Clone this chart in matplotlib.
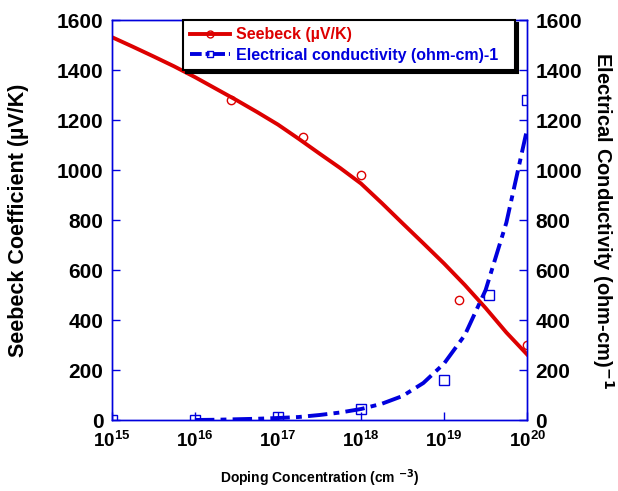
import numpy as np
import matplotlib
matplotlib.use("Agg")
import matplotlib.pyplot as plt

plt.rcParams['font.family'] = ['Liberation Sans', 'DejaVu Sans']
plt.rcParams['font.weight'] = 'bold'
plt.rcParams['mathtext.default'] = 'bf'

# measured points
seebeck_x = [2.7e16, 2e17, 1e18, 1.5e19, 1e20]
seebeck_y = [1280, 1132, 980, 480, 300]
cond_x = [1e15, 1e16, 1e17, 1e18, 1e19, 3.5e19, 1e20]
cond_y = [0, 2, 12, 44, 160, 500, 1280]

# trend lines (log10 of doping, value)
seebeck_fit_log = [15.0, 15.25, 15.5, 15.75, 16.0, 16.25, 16.5, 16.75, 17.0, 17.25, 17.5,
                   17.75, 18.0, 18.25, 18.5, 18.75, 19.0, 19.25, 19.5, 19.75, 20.0]
seebeck_fit_y = [1532, 1494, 1455, 1415, 1372, 1326, 1280, 1232, 1182, 1125, 1066,
                 1008, 946, 868, 787, 707, 626, 540, 448, 350, 262]
cond_fit_log = [16.0, 16.25, 16.5, 16.75, 17.0, 17.25, 17.5, 17.75, 18.0, 18.25, 18.5,
                18.75, 19.0, 19.25, 19.5, 19.75, 20.0]
cond_fit_y = [0, 1, 3, 5, 8, 12, 20, 30, 44, 65, 96, 148, 226, 340, 520, 790, 1165]

blue = '#0000dd'
red = '#dd0000'
dash = (5, 1.6, 1.5, 1.6)

fig = plt.figure(figsize=(6.18, 4.91), dpi=100)
ax = fig.add_axes([0.181, 0.1446, 0.672, 0.8144])
ax2 = ax.twinx()

ax.plot(10 ** np.array(seebeck_fit_log), seebeck_fit_y, color=red, lw=2.8, zorder=3)
ax.plot(seebeck_x, seebeck_y, 'o', mfc='none', mec=red, ms=6, mew=1, zorder=4)
ax2.plot(10 ** np.array(cond_fit_log), cond_fit_y, color=blue, lw=2.8, dashes=dash, zorder=3)
ax2.plot(cond_x, cond_y, 's', mfc='none', mec=blue, ms=6.5, mew=1, zorder=4)

# legend handles
h1, = ax.plot([], [], color=red, lw=2.8, marker='o', mfc='none', mec=red, ms=5)
h2, = ax.plot([], [], color=blue, lw=2.8, dashes=(3, 1, 1, 1), marker='s', mfc='none', mec=blue, ms=5)
leg = ax2.legend([h1, h2], ['Seebeck (µV/K)', 'Electrical conductivity (ohm-cm)-1'],
                 loc='upper left', bbox_to_anchor=(0.171, 0.0, 0.80, 1.0), mode='expand',
                 fontsize=11.5, frameon=True, fancybox=False,
                 shadow={'color': 'k', 'alpha': 1},
                 borderpad=0.45, handlelength=2.5, handletextpad=0.35,
                 labelspacing=0.35, borderaxespad=0)
leg.get_frame().set_edgecolor('k')
leg.get_frame().set_linewidth(1.5)
for t, c in zip(leg.get_texts(), [red, blue]):
    t.set_color(c)
    t.set_fontweight('bold')

ax.set_xscale('log')
ax.set_xlim(1e15, 1e20)
ax.set_ylim(0, 1600)
ax2.set_ylim(0, 1600)
ax.set_yticks(range(0, 1601, 200))
ax2.set_yticks(range(0, 1601, 200))
ax.set_xticks([1e15, 1e16, 1e17, 1e18, 1e19, 1e20])
ax.minorticks_off()

for a in (ax, ax2):
    for s in a.spines.values():
        s.set_color(blue)
        s.set_linewidth(1)
    a.tick_params(direction='in', color=blue, length=6, width=1, labelsize=15, pad=6)
ax.tick_params(axis='x', labelsize=13.5, pad=8)

ax.set_xlabel('Doping Concentration (cm $^{-3}$)', fontsize=10, fontweight='bold', labelpad=12)
ax.set_ylabel('Seebeck Coefficient (µV/K)', fontsize=15.5, fontweight='bold', labelpad=20)
ax2.set_ylabel('Electrical Conductivity (ohm-cm)$^{-1}$', fontsize=14.5, fontweight='bold',
               rotation=270, labelpad=24)

fig.savefig('out.png', dpi=100)
